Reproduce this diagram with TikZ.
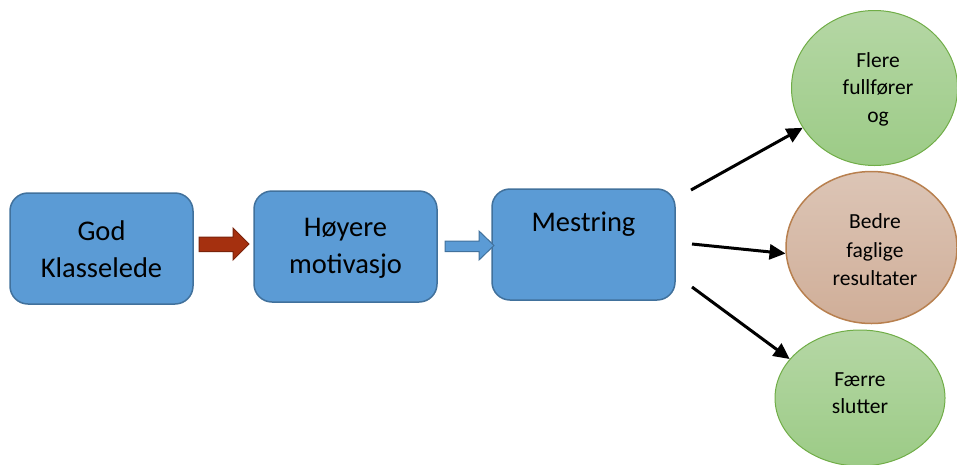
\documentclass[tikz,border=0pt]{standalone}
\usepackage{fontspec}
\setmainfont{Carlito}
\usetikzlibrary{shapes.geometric,shapes.arrows,arrows.meta}
\definecolor{boxfill}{HTML}{5B9BD5}
\definecolor{boxline}{HTML}{41719C}
\definecolor{redfill}{HTML}{A5300F}
\definecolor{redline}{HTML}{7A230B}
\definecolor{greentop}{HTML}{B5D7A5}
\definecolor{greenbot}{HTML}{9CCB86}
\definecolor{greenline}{HTML}{70AD47}
\definecolor{browntop}{HTML}{DCC5B6}
\definecolor{brownbot}{HTML}{D0AE98}
\definecolor{brownline}{HTML}{B8804F}
\tikzset{
  stepbox/.style={draw=boxline, line width=1.5pt, fill=boxfill, rounded corners=18pt,
    minimum width=183pt, minimum height=111pt, align=center,
    font=\fontsize{28}{37}\selectfont, inner sep=0pt},
  boxtext/.style={align=center, font=\fontsize{28.5}{37}\selectfont},
  greenell/.style={ellipse, draw=greenline, line width=1pt, top color=greentop, bottom color=greenbot,
    inner sep=0pt},
  brownell/.style={ellipse, draw=brownline, line width=1.5pt, top color=browntop, bottom color=brownbot,
    inner sep=0pt},
  elltext/.style={align=center, font=\fontsize{21.5}{27.5}\selectfont},
  conn/.style={line width=3pt, -{Triangle[length=16pt,width=15pt]}},
}
\begin{document}
\begin{tikzpicture}[x=1pt,y=-1pt]
\useasboundingbox (0,0) rectangle (957,464);
% boxes
\node[stepbox] (b1) at (101.5,248.5) {};
\node[boxtext] (t1) at (101.5,249) {God\\Klasselede};
\node[stepbox] (b2) at (345.5,246.5) {};
\node[boxtext] (t2) at (345.5,248) {Høyere\\motivasjo};
\node[stepbox] (b3) at (583.5,244.5) {};
\node[boxtext] (t3) at (583.5,224) {Mestring};
% block arrows
\fill[redfill, draw=redline, line width=1pt]
  (199,237) -- (233,237) -- (233,228) -- (249,244) -- (233,260) -- (233,251.5) -- (199,251.5) -- cycle;
\draw[fill=boxfill, draw=boxline, line width=1pt]
  (445,241) -- (479,241) -- (479,231) -- (494,245.5) -- (479,260) -- (479,251.5) -- (445,251.5) -- cycle;
% ellipses
\node[greenell, minimum width=166pt, minimum height=155pt] (e1) at (874.5,88) {};
\node[elltext] (s1) at (878,89) {Flere\\fullfører\\og};
\node[brownell, minimum width=171pt, minimum height=152pt] (e2) at (871.5,247.5) {};
\node[elltext, font=\fontsize{21.5}{28.5}\selectfont] (s2) at (875,250) {Bedre\\faglige\\resultater};
\node[greenell, minimum width=170pt, minimum height=136pt] (e3) at (860,398) {};
\node[elltext] (s3) at (860,393) {Færre\\slutter};
% connectors
\coordinate (c1) at (691,190);
\coordinate (c2) at (692,244);
\coordinate (c3) at (692,287);
\draw[conn] (c1) -- (e1.209);
\draw[conn] (c2) -- (e2.184);
\draw[conn] (c3) -- (e3.151);
\end{tikzpicture}
\end{document}
